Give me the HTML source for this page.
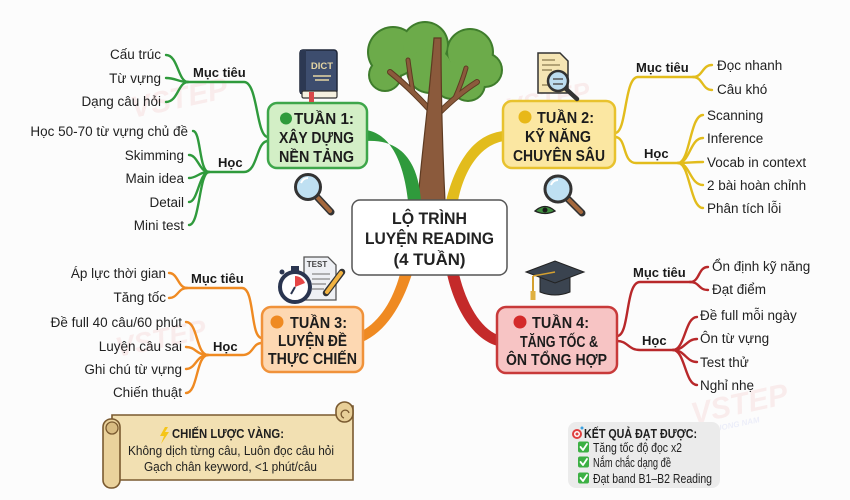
<!DOCTYPE html>
<html><head><meta charset="utf-8">
<style>
html,body{margin:0;padding:0;background:#fcfcfc;}
svg{display:block;}
text{font-family:"Liberation Sans","DejaVu Sans",sans-serif;}
.leaf{font-size:13.5px;fill:#222;}
.lab{font-size:13px;font-weight:bold;fill:#1a1a1a;}
.ttl{font-size:16px;font-weight:bold;fill:#1c1c1c;}
</style></head>
<body>
<svg width="850" height="500" viewBox="0 0 850 500" xmlns="http://www.w3.org/2000/svg">
<rect width="850" height="500" fill="#fcfcfc"/>

<!-- watermarks -->
<g opacity="0.08" font-family="Liberation Sans" font-weight="bold" font-style="italic">
  <text x="130" y="112" font-size="30" fill="#d83a3a" transform="rotate(-12 160 100)">VSTEP</text>
  <text x="505" y="112" font-size="26" fill="#d83a3a" transform="rotate(-12 530 100)">VSTEP</text>
  <text x="115" y="350" font-size="28" fill="#d83a3a" transform="rotate(-12 150 340)">VSTEP</text>
  <text x="690" y="418" font-size="30" fill="#d83a3a" transform="rotate(-12 720 405)">VSTEP</text>
  <text x="700" y="430" font-size="8" fill="#3a4ad8" transform="rotate(-12 720 405)">PHUONG NAM</text>
</g>

<!-- tree foliage -->
<g fill="#3f7d2c">
  <circle cx="393" cy="52" r="26"/><circle cx="425" cy="45" r="24"/><circle cx="470" cy="52" r="24"/>
  <circle cx="485" cy="70" r="18"/><circle cx="468" cy="84" r="18"/><circle cx="385" cy="75" r="17"/>
  <circle cx="430" cy="70" r="24"/><circle cx="452" cy="80" r="20"/>
</g>
<g fill="#6cab4a">
  <circle cx="393" cy="52" r="24"/><circle cx="425" cy="45" r="22"/><circle cx="470" cy="52" r="22"/>
  <circle cx="485" cy="70" r="16"/><circle cx="468" cy="84" r="16"/><circle cx="385" cy="75" r="15"/>
  <circle cx="430" cy="70" r="22"/><circle cx="452" cy="80" r="18"/>
</g>
<!-- branches & trunk -->
<g stroke="#5e3b22" stroke-linecap="round" fill="none">
  <path d="M430,110 Q410,88 390,72" stroke-width="6"/>
  <path d="M413,93 Q410,76 408,60" stroke-width="5"/>
  <path d="M438,114 Q458,94 477,82" stroke-width="6"/>
  <path d="M455,98 Q462,82 466,68" stroke-width="5"/>
</g>
<g stroke="#8b5a3c" stroke-linecap="round" fill="none">
  <path d="M430,110 Q410,88 390,72" stroke-width="4"/>
  <path d="M413,93 Q410,76 408,60" stroke-width="3"/>
  <path d="M438,114 Q458,94 477,82" stroke-width="4"/>
  <path d="M455,98 Q462,82 466,68" stroke-width="3"/>
</g>
<path d="M418,201 C421,160 428,110 434,38 L441,38 C441,110 443,160 445,201 Z" fill="#8b5a3c" stroke="#5e3b22" stroke-width="1.2"/>

<!-- main ribbons -->
<path d="M366,130 C392,134 404,165 408,201 L421,201 C418,160 400,139 366,141 Z" fill="#2f9a3c"/>
<path d="M504,131 C472,134 455,165 446,201 L458,201 C464,170 480,145 504,141 Z" fill="#e2bc1c"/>
<path d="M400,274 L412,274 C402,305 386,332 362,342 L362,331 C380,321 393,300 400,274 Z" fill="#ef8a22"/>
<path d="M447,274 L459,274 C466,303 480,328 498,335 L498,346 C474,340 455,310 447,274 Z" fill="#c42a2a"/>

<!-- center box -->
<rect x="352" y="200" width="155" height="75" rx="8" fill="#fff" stroke="#555" stroke-width="1.5"/>
<text x="429.5" y="224" text-anchor="middle" font-size="16.5" font-weight="bold" fill="#222" textLength="75" lengthAdjust="spacingAndGlyphs">LỘ TRÌNH</text>
<text x="429.5" y="244" text-anchor="middle" font-size="16.5" font-weight="bold" fill="#222" textLength="129" lengthAdjust="spacingAndGlyphs">LUYỆN READING</text>
<text x="429.5" y="265" text-anchor="middle" font-size="16.5" font-weight="bold" fill="#222" textLength="72" lengthAdjust="spacingAndGlyphs">(4 TUẦN)</text>

<!-- ============ TUAN 1 ============ -->
<g fill="none" stroke="#2f9a3c" stroke-width="2.4" stroke-linecap="round">
  <path d="M268,137 C256,137 258,82 244,82 L188,82"/>
  <path d="M188,82 C178,82 178,55 166,55"/>
  <path d="M188,82 C178,82 176,78 166,78"/>
  <path d="M188,82 C178,82 178,102 166,102"/>
  <path d="M268,141 C256,141 258,172 244,172 L209,172"/>
  <path d="M209,172 C199,172 201,131 193,131"/>
  <path d="M209,172 C199,172 198,155 189,155"/>
  <path d="M209,172 C199,172 197,178 189,178"/>
  <path d="M209,172 C199,172 198,202 189,202"/>
  <path d="M209,172 C199,172 200,225 189,225"/>
</g>
<text class="lab" x="193" y="77">Mục tiêu</text>
<text class="lab" x="218" y="167">Học</text>
<g text-anchor="end">
  <text class="leaf" x="161" y="59">Cấu trúc</text>
  <text class="leaf" x="161" y="83">Từ vựng</text>
  <text class="leaf" x="161" y="106">Dạng câu hỏi</text>
  <text class="leaf" x="188" y="136">Học 50-70 từ vựng chủ đề</text>
  <text class="leaf" x="184" y="160">Skimming</text>
  <text class="leaf" x="184" y="183">Main idea</text>
  <text class="leaf" x="184" y="207">Detail</text>
  <text class="leaf" x="184" y="230">Mini test</text>
</g>
<rect x="268" y="103" width="99" height="65" rx="9" fill="#d3efc6" stroke="#3ea64a" stroke-width="2.5"/>
<circle cx="286" cy="118.5" r="6" fill="#2f9a3c"/>
<text class="ttl" x="294" y="124" textLength="60" lengthAdjust="spacingAndGlyphs">TUẦN 1:</text>
<text class="ttl" x="316.5" y="143" text-anchor="middle" textLength="75" lengthAdjust="spacingAndGlyphs">XÂY DỰNG</text>
<text class="ttl" x="316.5" y="162" text-anchor="middle" textLength="75" lengthAdjust="spacingAndGlyphs">NỀN TẢNG</text>

<!-- book icon -->
<rect x="300" y="50" width="37" height="44" rx="3" fill="#3d4d6e" stroke="#1f2638" stroke-width="1.5"/>
<rect x="300" y="50" width="6" height="44" fill="#2c3852"/>
<text x="322" y="69" text-anchor="middle" font-size="9.5" font-weight="bold" fill="#e6d6a4">DICT</text>
<line x1="313" y1="76" x2="331" y2="76" stroke="#e6d6a4" stroke-width="1.5"/>
<line x1="315" y1="80" x2="329" y2="80" stroke="#e6d6a4" stroke-width="1.5"/>
<rect x="302" y="91" width="35" height="7" rx="1.5" fill="#f5f0e0" stroke="#333" stroke-width="1.2"/>
<rect x="309" y="92" width="5" height="10" fill="#d94848"/>
<!-- magnifier T1 -->
<line x1="317" y1="197" x2="331" y2="212" stroke="#333" stroke-width="7" stroke-linecap="round"/>
<line x1="318" y1="198" x2="330" y2="211" stroke="#a5683c" stroke-width="4" stroke-linecap="round"/>
<circle cx="308" cy="187" r="12.5" fill="#bfe0f2" stroke="#333" stroke-width="3"/>
<path d="M301,183 Q303,178 308,178" stroke="#fff" stroke-width="2" fill="none"/>

<!-- ============ TUAN 2 ============ -->
<g fill="none" stroke="#e2bc1c" stroke-width="2.4" stroke-linecap="round">
  <path d="M615,133 C627,133 624,77 638,77 L693,77"/>
  <path d="M693,77 C703,77 702,65 712,65"/>
  <path d="M693,77 C703,77 702,90 712,90"/>
  <path d="M615,137 C627,137 622,163 636,163 L678,163"/>
  <path d="M678,163 C690,163 690,115 703,115"/>
  <path d="M678,163 C690,163 690,138 703,138"/>
  <path d="M678,163 C690,163 692,162 703,162"/>
  <path d="M678,163 C690,163 690,185 703,185"/>
  <path d="M678,163 C690,163 690,208 703,208"/>
</g>
<text class="lab" x="636" y="72">Mục tiêu</text>
<text class="lab" x="644" y="158">Học</text>
<text class="leaf" x="717" y="70">Đọc nhanh</text>
<text class="leaf" x="717" y="94">Câu khó</text>
<text class="leaf" x="707" y="120">Scanning</text>
<text class="leaf" x="707" y="143">Inference</text>
<text class="leaf" x="707" y="167">Vocab in context</text>
<text class="leaf" x="707" y="190">2 bài hoàn chỉnh</text>
<text class="leaf" x="707" y="213">Phân tích lỗi</text>
<rect x="503" y="101" width="112" height="67" rx="9" fill="#fbe7a2" stroke="#e8c22e" stroke-width="2.5"/>
<circle cx="525" cy="117" r="6.5" fill="#e8b818"/>
<text class="ttl" x="537" y="123" textLength="57" lengthAdjust="spacingAndGlyphs">TUẦN 2:</text>
<text class="ttl" x="558" y="142" text-anchor="middle" textLength="66" lengthAdjust="spacingAndGlyphs">KỸ NĂNG</text>
<text class="ttl" x="559" y="161" text-anchor="middle" textLength="92" lengthAdjust="spacingAndGlyphs">CHUYÊN SÂU</text>

<!-- doc + magnifier icon -->
<path d="M538,53 L560,53 L568,61 L568,93 L538,93 Z" fill="#f5e5b4" stroke="#333" stroke-width="1.5"/>
<g stroke="#8a7a50" stroke-width="1.3">
  <line x1="542" y1="60" x2="555" y2="60"/><line x1="542" y1="65" x2="560" y2="65"/>
  <line x1="542" y1="70" x2="552" y2="70"/><line x1="542" y1="85" x2="550" y2="85"/>
</g>
<line x1="565" y1="88" x2="577" y2="99" stroke="#333" stroke-width="4.5" stroke-linecap="round"/>
<circle cx="558" cy="81" r="10" fill="#bcdcf0" stroke="#333" stroke-width="2.5"/>
<line x1="553" y1="79" x2="563" y2="79" stroke="#555" stroke-width="1.5"/>
<line x1="553" y1="84" x2="563" y2="84" stroke="#555" stroke-width="1.5"/>
<!-- magnifier+eye T2 -->
<line x1="568" y1="199" x2="582" y2="213" stroke="#333" stroke-width="7" stroke-linecap="round"/>
<line x1="569" y1="200" x2="581" y2="212" stroke="#a5683c" stroke-width="4" stroke-linecap="round"/>
<circle cx="558" cy="189" r="13" fill="#bfe0f2" stroke="#333" stroke-width="3"/>
<path d="M551,185 Q553,180 558,180" stroke="#fff" stroke-width="2" fill="none"/>
<path d="M535,211 Q545,202 555,211 Q545,216 535,211 Z" fill="#3f8f3f" stroke="#222" stroke-width="1.3"/>
<circle cx="545" cy="210" r="2.5" fill="#1a1a1a"/>

<!-- ============ TUAN 3 ============ -->
<g fill="none" stroke="#ef8a22" stroke-width="2.4" stroke-linecap="round">
  <path d="M262,338 C250,338 255,288 242,288 L187,288"/>
  <path d="M187,288 C178,288 178,273 169,273"/>
  <path d="M187,288 C178,288 178,298 169,298"/>
  <path d="M262,343 C252,343 254,355 242,355 L208,355"/>
  <path d="M208,355 C196,355 198,322 186,322"/>
  <path d="M208,355 C196,355 196,347 186,347"/>
  <path d="M208,355 C196,355 196,369 186,369"/>
  <path d="M208,355 C196,355 198,393 186,393"/>
</g>
<text class="lab" x="191" y="283">Mục tiêu</text>
<text class="lab" x="213" y="351">Học</text>
<g text-anchor="end">
  <text class="leaf" x="166" y="278">Áp lực thời gian</text>
  <text class="leaf" x="166" y="302">Tăng tốc</text>
  <text class="leaf" x="182" y="327">Đề full 40 câu/60 phút</text>
  <text class="leaf" x="182" y="351">Luyện câu sai</text>
  <text class="leaf" x="182" y="374">Ghi chú từ vựng</text>
  <text class="leaf" x="182" y="397">Chiến thuật</text>
</g>
<rect x="262" y="307" width="101" height="65" rx="9" fill="#fdd8b2" stroke="#f0923a" stroke-width="2.5"/>
<circle cx="277" cy="322" r="6.5" fill="#ef8a22"/>
<text class="ttl" x="290" y="328" textLength="57" lengthAdjust="spacingAndGlyphs">TUẦN 3:</text>
<text class="ttl" x="312.5" y="346" text-anchor="middle" textLength="69" lengthAdjust="spacingAndGlyphs">LUYỆN ĐỀ</text>
<text class="ttl" x="312.5" y="364" text-anchor="middle" textLength="89" lengthAdjust="spacingAndGlyphs">THỰC CHIẾN</text>

<!-- stopwatch + test icon -->
<path d="M304,257 L328,257 L336,265 L336,300 L304,300 Z" fill="#eef0f4" stroke="#555" stroke-width="1.3"/>
<text x="317" y="267" text-anchor="middle" font-size="8" font-weight="bold" fill="#444">TEST</text>
<g stroke="#888" stroke-width="1.3">
  <line x1="312" y1="274" x2="330" y2="274"/><line x1="312" y1="279" x2="330" y2="279"/>
  <line x1="312" y1="284" x2="326" y2="284"/><line x1="312" y1="289" x2="324" y2="289"/>
</g>
<line x1="342" y1="272" x2="326" y2="293" stroke="#333" stroke-width="6.5" stroke-linecap="round"/>
<line x1="341" y1="273" x2="327" y2="292" stroke="#f2b341" stroke-width="4" stroke-linecap="round"/>
<rect x="291" y="266" width="8" height="5" fill="#2a3550"/>
<circle cx="295" cy="287" r="15" fill="#fff" stroke="#2a3550" stroke-width="4"/>
<path d="M295,287 L295,276 A11,11 0 0,1 305,283 Z" fill="#e64545"/>
<line x1="295" y1="287" x2="291" y2="294" stroke="#2a3550" stroke-width="2"/>
<circle cx="282" cy="272" r="2.5" fill="#2a3550"/>

<!-- ============ TUAN 4 ============ -->
<g fill="none" stroke="#b8282a" stroke-width="2.4" stroke-linecap="round">
  <path d="M617,336 C630,336 625,282 640,282 L690,282"/>
  <path d="M690,282 C700,282 698,267 708,267"/>
  <path d="M690,282 C700,282 698,290 708,290"/>
  <path d="M617,341 C628,341 628,350 640,350 L673,350"/>
  <path d="M673,350 C685,350 685,317 697,317"/>
  <path d="M673,350 C685,350 686,339 697,339"/>
  <path d="M673,350 C685,350 686,362 697,362"/>
  <path d="M673,350 C685,350 685,385 697,385"/>
</g>
<text class="lab" x="633" y="277">Mục tiêu</text>
<text class="lab" x="642" y="345">Học</text>
<text class="leaf" x="712" y="271">Ổn định kỹ năng</text>
<text class="leaf" x="712" y="294">Đạt điểm</text>
<text class="leaf" x="700" y="320">Đề full mỗi ngày</text>
<text class="leaf" x="700" y="343">Ôn từ vựng</text>
<text class="leaf" x="700" y="367">Test thử</text>
<text class="leaf" x="700" y="390">Nghỉ nhẹ</text>
<rect x="497" y="307" width="120" height="66" rx="9" fill="#f7c4c4" stroke="#c83a3a" stroke-width="2.5"/>
<circle cx="520" cy="322" r="6.5" fill="#d42a2a"/>
<text class="ttl" x="532" y="328" textLength="57" lengthAdjust="spacingAndGlyphs">TUẦN 4:</text>
<text class="ttl" x="559" y="347" text-anchor="middle" textLength="78" lengthAdjust="spacingAndGlyphs">TĂNG TỐC &amp;</text>
<text class="ttl" x="556.5" y="365" text-anchor="middle" textLength="101" lengthAdjust="spacingAndGlyphs">ÔN TỔNG HỢP</text>

<!-- grad cap -->
<path d="M540,276 L570,276 L570,292 Q555,298 540,292 Z" fill="#3b4450" stroke="#222" stroke-width="1"/>
<polygon points="526,272 555,261 584,272 555,283" fill="#3a434f" stroke="#222" stroke-width="1"/>
<line x1="555" y1="272" x2="533" y2="276" stroke="#d4a030" stroke-width="1.5"/>
<line x1="533" y1="276" x2="533" y2="292" stroke="#d4a030" stroke-width="2"/>
<rect x="530.5" y="291" width="5" height="9" fill="#e0b040"/>

<!-- ============ SCROLL ============ -->
<path d="M112,415 L338,415 L338,406 L353,406 L353,480 L112,480 Z" fill="#f2e0b2" stroke="#7a5a30" stroke-width="1.6"/>
<rect x="336" y="402" width="17" height="20" rx="8.5" fill="#e8cf98" stroke="#7a5a30" stroke-width="1.6"/>
<path d="M344,418 A4,4 0 1,1 349,413" fill="none" stroke="#7a5a30" stroke-width="1.3"/>
<rect x="103" y="419" width="17" height="69" rx="8" fill="#ead29c" stroke="#7a5a30" stroke-width="1.6"/>
<circle cx="112" cy="428" r="6" fill="#d9bc82" stroke="#7a5a30" stroke-width="1.3"/>
<polygon points="165,427 160,436 164,436 161,444 169,432 165,432 168,427" fill="#f5c518"/>
<text x="172" y="438" font-size="13" font-weight="bold" fill="#1e1e1e" textLength="112" lengthAdjust="spacingAndGlyphs">CHIẾN LƯỢC VÀNG:</text>
<text x="231" y="455" text-anchor="middle" font-size="13" fill="#1e1e1e" textLength="206" lengthAdjust="spacingAndGlyphs">Không dịch từng câu, Luôn đọc câu hỏi</text>
<text x="230.5" y="471" text-anchor="middle" font-size="13" fill="#1e1e1e" textLength="173" lengthAdjust="spacingAndGlyphs">Gạch chân keyword, &lt;1 phút/câu</text>

<!-- ============ RESULT BOX ============ -->
<rect x="568" y="422" width="152" height="66" rx="8" fill="#ebebeb"/>
<circle cx="577" cy="434" r="5" fill="#e04040"/>
<circle cx="577" cy="434" r="3" fill="#fff"/>
<circle cx="577" cy="434" r="1.5" fill="#e04040"/>
<circle cx="582" cy="428" r="1.5" fill="#3aa0e0"/>
<text x="584" y="438" font-size="13" font-weight="bold" fill="#1e1e1e" textLength="113" lengthAdjust="spacingAndGlyphs">KẾT QUẢ ĐẠT ĐƯỢC:</text>
<g fill="#3cb043">
  <rect x="578" y="441.5" width="11" height="11" rx="2"/>
  <rect x="578" y="456.5" width="11" height="11" rx="2"/>
  <rect x="578" y="472.5" width="11" height="11" rx="2"/>
</g>
<g fill="none" stroke="#fff" stroke-width="1.8" stroke-linecap="round" stroke-linejoin="round">
  <path d="M580.5,447 L583,450 L587,444"/>
  <path d="M580.5,462 L583,465 L587,459"/>
  <path d="M580.5,478 L583,481 L587,475"/>
</g>
<text x="593" y="452" font-size="13" fill="#1e1e1e" textLength="89" lengthAdjust="spacingAndGlyphs">Tăng tốc độ đọc x2</text>
<text x="593" y="467" font-size="13" fill="#1e1e1e" textLength="78" lengthAdjust="spacingAndGlyphs">Nắm chắc dạng đề</text>
<text x="593" y="483" font-size="13" fill="#1e1e1e" textLength="119" lengthAdjust="spacingAndGlyphs">Đạt band B1–B2 Reading</text>
</svg>
</body></html>
